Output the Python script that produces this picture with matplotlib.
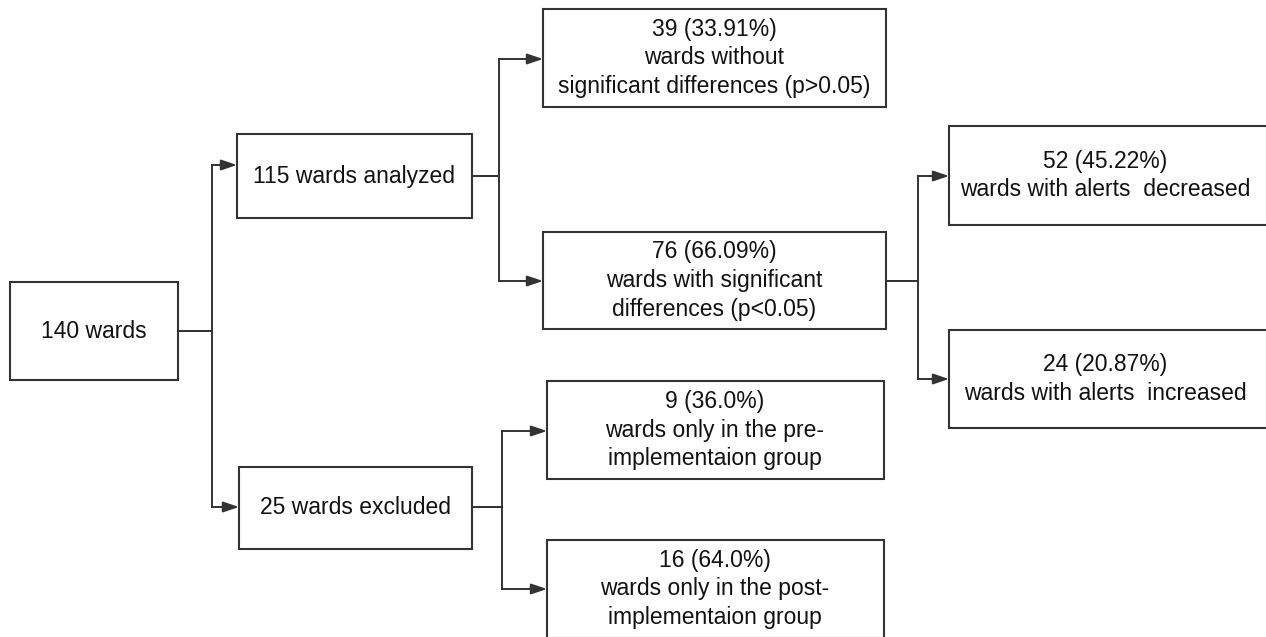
import matplotlib

matplotlib.use('Agg')
import matplotlib.pyplot as plt
from matplotlib.patches import Rectangle

plt.rcParams['font.family'] = ['Liberation Sans', 'DejaVu Sans']

# тексты блоков
labels = [
    "140 wards",
    "115 wards analyzed",
    "25 wards excluded",
    "39 (33.91%)\nwards without\nsignificant differences (p>0.05)",
    "76 (66.09%)\nwards with significant\ndifferences (p<0.05)",
    "9 (36.0%)\nwards only in the pre-\nimplementaion group",
    "16 (64.0%)\nwards only in the post-\nimplementaion group",
    "52 (45.22%)\nwards with alerts  decreased",
    "24 (20.87%)\nwards with alerts  increased",
]

# геометрия блоков в пикселях: x0, y0, x1, y1
boxes = [
    (10, 282, 178, 380),
    (237, 134, 472, 218),
    (239, 467, 472, 549),
    (543, 9, 886, 107),
    (543, 232, 886, 329),
    (547, 381, 884, 479),
    (547, 540, 884, 638),
    (949, 126, 1267, 225),
    (949, 330, 1267, 428),
]
text_x = [94, 354, 355, 714, 714, 715, 715, 1105, 1105]

# связи: откуда (x, y) -> излом по x -> куда (x, y)
links = [
    ((178, 331), 212, (237, 165)),
    ((178, 331), 212, (239, 507)),
    ((472, 176), 499, (543, 59)),
    ((472, 176), 499, (543, 281)),
    ((472, 507), 502, (547, 431)),
    ((472, 507), 502, (547, 589)),
    ((886, 281), 918, (949, 176)),
    ((886, 281), 918, (949, 379)),
]

line_col = '#333333'

fig = plt.figure(figsize=(12.66, 6.37), dpi=100)
ax = fig.add_axes([0, 0, 1, 1])
ax.set_xlim(0, 1266)
ax.set_ylim(637, 0)
ax.axis('off')

for (x0, y0, x1, y1), lab, tx in zip(boxes, labels, text_x):
    ax.add_patch(Rectangle((x0, y0), x1 - x0, y1 - y0, fill=False,
                           edgecolor=line_col, linewidth=1.5))
    ax.text(tx, (y0 + y1) / 2, lab, ha='center', va='center',
            fontsize=16.5, color='#111111', linespacing=1.33)

for (sx, sy), mx, (ex, ey) in links:
    ax.plot([sx, mx, mx], [sy, sy, ey], color=line_col, linewidth=1.4,
            solid_joinstyle='miter')
    ax.annotate('', xy=(ex, ey), xytext=(mx, ey),
                arrowprops=dict(arrowstyle='-|>,head_length=0.95,head_width=0.32',
                                color=line_col, lw=1.4,
                                mutation_scale=10, shrinkA=0, shrinkB=0))

plt.savefig('out.png', dpi=100)
plt.close()
